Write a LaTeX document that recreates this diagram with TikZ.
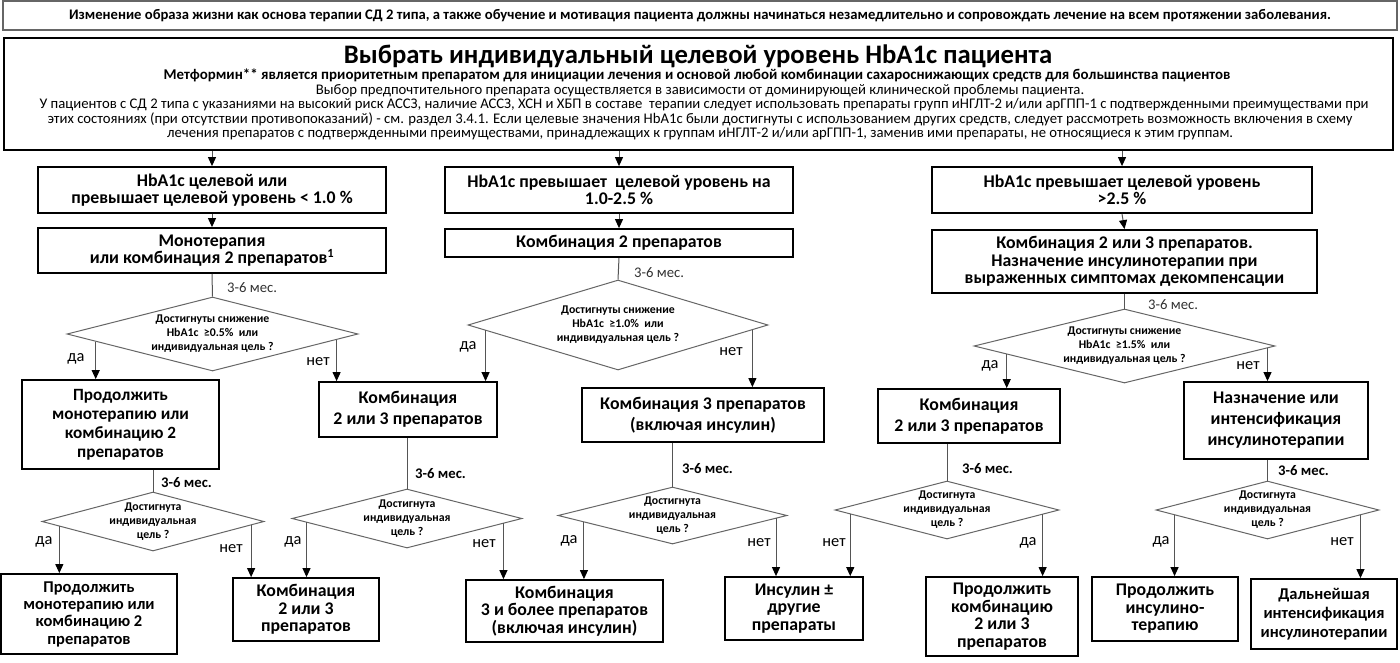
\documentclass[tikz,border=0pt]{standalone}
\usepackage{fontspec}
\setmainfont{Carlito}
\usetikzlibrary{arrows.meta,shapes.geometric,calc}
\definecolor{lc}{HTML}{555555}
\definecolor{dc}{HTML}{666666}
\begin{document}
\begin{tikzpicture}[x=1pt,y=-1pt,
  bx/.style={draw=black,line width=1.8pt,align=center,inner sep=0pt,font=\bfseries\fontsize{17.8}{17.5}\selectfont},
  bxw/.style={bx,font=\bfseries\fontsize{17.8}{21}\selectfont},
  dm/.style={draw=dc,line width=1pt,diamond,inner sep=0pt},
  dt/.style={align=center,inner sep=0pt,font=\bfseries\fontsize{11.8}{14}\selectfont},
  ln/.style={draw=lc,line width=1pt},
  arr/.style={ln,-{Triangle[length=9pt,width=8pt,color=black]}},
  mo/.style={anchor=west,inner sep=0pt,text=black!80,font=\fontsize{14.7}{15}\selectfont},
  mb/.style={anchor=west,inner sep=0pt,font=\bfseries\fontsize{14.7}{15}\selectfont},
  yn/.style={inner sep=0pt,font=\fontsize{16.4}{17}\selectfont},
  ml/.style={anchor=base,inner sep=0pt,font=\fontsize{14.7}{15}\selectfont},
]
\useasboundingbox[fill=white] (0,0) rectangle (1400,662);

% banner
\node[draw=dc,line width=1.3pt,minimum width=1394pt,minimum height=29pt,inner sep=0pt,
  font=\bfseries\fontsize{14.65}{15}\selectfont] (ban) at (700,15.5)
  {Изменение образа жизни как основа терапии СД 2 типа, а также обучение и мотивация пациента должны начинаться незамедлительно и сопровождать лечение на всем протяжении заболевания.};

% main box
\node[draw=black,line width=2pt,minimum width=1389pt,minimum height=112pt,inner sep=0pt] (main) at (698.5,94) {};
\node[ml,font=\bfseries\fontsize{26.7}{30}\selectfont] (title) at (698,63.5) {Выбрать индивидуальный целевой уровень HbA1c пациента};
\node[ml,font=\bfseries\fontsize{14.9}{15}\selectfont] (l1) at (697,79.5) {Метформин** является приоритетным препаратом для инициации лечения и основой любой комбинации сахароснижающих средств для большинства пациентов};
\node[ml] (l2) at (700,94) {Выбор предпочтительного препарата осуществляется в зависимости от доминирующей клинической проблемы пациента.};
\node[ml] (l3) at (704,108.5) {У пациентов с СД 2 типа с указаниями на высокий риск АССЗ, наличие АССЗ, ХСН и ХБП в составе\ \ терапии следует использовать препараты групп иНГЛТ-2 и/или арГПП-1 с подтвержденными преимуществами при};
\node[ml] (l4) at (700,123) {этих состояниях (при отсутствии противопоказаний) - см. раздел 3.4.1. Если целевые значения HbA1c были достигнуты с использованием других средств, следует рассмотреть возможность включения в схему};
\node[ml] (l5) at (700,137.5) {лечения препаратов с подтвержденными преимуществами, принадлежащих к группам иНГЛТ-2 и/или арГПП-1, заменив ими препараты, не относящиеся к этим группам.};

% row A
\node[bx,minimum width=348pt,minimum height=46pt] (A1) at (212,190) {HbA1c целевой или\\превышает целевой уровень < 1.0 \%};
\node[bx,minimum width=348pt,minimum height=45pt] (A2) at (212,250.5) {Монотерапия\\или комбинация 2 препаратов\textsuperscript{1}};
\node[bx,minimum width=348pt,minimum height=46pt] (E1) at (619,190) {HbA1c превышает\ \ целевой уровень на\\1.0-2.5 \%};
\node[bx,minimum width=348pt,minimum height=28pt] (E2) at (619,243) {Комбинация 2 препаратов};
\node[bx,minimum width=380pt,minimum height=46pt] (F1) at (1122,190) {HbA1c превышает целевой уровень\\>2.5 \%};
\node[bx,minimum width=385pt,minimum height=63pt] (F2) at (1124.5,261.5) {Комбинация 2 или 3 препаратов.\\Назначение инсулинотерапии при\\выраженных симптомах декомпенсации};

% row B
\node[bx,font=\bfseries\fontsize{17.2}{19}\selectfont,minimum width=197pt,minimum height=89pt] (B1) at (120.5,424.5) {Продолжить\\монотерапию или\\комбинацию 2\\препаратов};
\node[bxw,minimum width=178pt,minimum height=55pt] (B2) at (408,409.5) {Комбинация\\2 или 3 препаратов};
\node[bxw,minimum width=242pt,minimum height=54pt] (B3) at (703,415) {Комбинация 3 препаратов\\(включая инсулин)};
\node[bxw,minimum width=182pt,minimum height=54pt] (B4) at (969,416) {Комбинация\\2 или 3 препаратов};
\node[bxw,minimum width=184pt,minimum height=77pt] (B5) at (1276,420.5) {Назначение или\\интенсификация\\инсулинотерапии};

% row C
\node[bx,font=\bfseries\fontsize{16.5}{17.3}\selectfont,minimum width=176pt,minimum height=80pt] (C1) at (89,614) {Продолжить\\монотерапию или\\комбинацию 2\\препаратов};
\node[bx,minimum width=146pt,minimum height=63pt] (C2) at (306,609.5) {Комбинация\\2 или 3\\препаратов};
\node[bx,minimum width=197pt,minimum height=62pt] (C3) at (564.5,611) {Комбинация\\3 и более препаратов\\(включая инсулин)};
\node[bx,minimum width=138pt,minimum height=63pt] (C4) at (794,608.5) {Инсулин ±\\другие\\препараты};
\node[bx,minimum width=152pt,minimum height=79pt] (C5) at (1002,616.5) {Продолжить\\комбинацию\\2 или 3\\препаратов};
\node[bx,minimum width=146pt,minimum height=64pt] (C6) at (1165,609) {Продолжить\\инсулино-\\терапию};
\node[bx,font=\bfseries\fontsize{16.5}{19}\selectfont,minimum width=146pt,minimum height=70pt] (C7) at (1324,614) {Дальнейшая\\интенсификация\\инсулинотерапии};

% diamonds
\node[dm,minimum width=291pt,minimum height=74pt] (D1) at (212.5,334) {};
\node[dt] (D1t) at (D1) {Достигнуты снижение\\HbA1c\ \ ≥0.5\%\ \ или\\индивидуальная цель ?};
\node[dm,minimum width=300pt,minimum height=90pt] (G1) at (618,325) {};
\node[dt] (G1t) at (G1) {Достигнуты снижение\\HbA1c\ \ ≥1.0\%\ \ или\\индивидуальная цель ?};
\node[dm,minimum width=301pt,minimum height=74pt] (H1) at (1124.5,346) {};
\node[dt] (H1t) at (H1) {Достигнуты снижение\\HbA1c\ \ ≥1.5\%\ \ или\\индивидуальная цель ?};
\node[dm,minimum width=222pt,minimum height=59pt] (D2) at (153,521.5) {};
\node[dt] (D2t) at (D2) {Достигнута\\индивидуальная\\цель ?};
\node[dm,minimum width=230pt,minimum height=59pt] (D3) at (407,518.5) {};
\node[dt] (D3t) at (D3) {Достигнута\\индивидуальная\\цель ?};
\node[dm,minimum width=229pt,minimum height=57pt] (D4) at (672.5,515.5) {};
\node[dt] (D4t) at (D4) {Достигнута\\индивидуальная\\цель ?};
\node[dm,minimum width=224pt,minimum height=58pt] (D5) at (947,510) {};
\node[dt] (D5t) at (D5) {Достигнута\\индивидуальная\\цель ?};
\node[dm,minimum width=223pt,minimum height=58pt] (D6) at (1267.5,510) {};
\node[dt] (D6t) at (D6) {Достигнута\\индивидуальная\\цель ?};

% main -> row A
\draw[arr] (main.south -| A1.north) -- (A1.north);
\draw[arr] (main.south -| E1.north) -- (E1.north);
\draw[arr] (main.south -| F1.north) -- (F1.north);
\draw[arr] (A1.south) -- (A2.north);
\draw[arr] (E1.south) -- (E2.north);
\draw[arr] (F1.south) -- (F2.north);

% box -> diamond lines
\draw[ln] (A2.south) -- (D1.north);
\draw[ln] (E2.south) -- (G1.north);
\draw[ln] (F2.south) -- (H1.north);
\draw[ln] (B1.south -| D2.north) -- (D2.north);
\draw[ln] (B2.south -| D3.north) -- (D3.north);
\draw[ln] (B3.south -| D4.north) -- (D4.north);
\draw[ln] (B4.south -| D5.north) -- (D5.north);
\draw[ln] (B5.south -| D6.north) -- (D6.north);

% 3-6 labels
\node[mo] (m1) at (227,288) {3-6 мес.};
\node[mo] (m2) at (634,273) {3-6 мес.};
\node[mo] (m3) at (1148,305) {3-6 мес.};
\node[mb] (m4) at (161,483) {3-6 мес.};
\node[mb] (m5) at (415,474) {3-6 мес.};
\node[mb] (m6) at (682,469) {3-6 мес.};
\node[mb] (m7) at (962,469) {3-6 мес.};
\node[mb] (m8) at (1278,471) {3-6 мес.};

% branch coordinates on diamond edges
\coordinate (d1a) at ($(D1.west)!0.2!(D1.south)$);
\coordinate (d1b) at ($(D1.east)!0.15!(D1.south)$);
\coordinate (g1a) at ($(G1.west)!0.12!(G1.south)$);
\coordinate (g1b) at ($(G1.east)!0.107!(G1.south)$);
\coordinate (h1a) at ($(H1.west)!0.22!(H1.south)$);
\coordinate (h1b) at ($(H1.east)!0.053!(H1.south)$);
\coordinate (d2a) at ($(D2.west)!0.16!(D2.south)$);
\coordinate (d2b) at ($(D2.east)!0.12!(D2.south)$);
\coordinate (d3a) at ($(D3.west)!0.13!(D3.south)$);
\coordinate (d3b) at ($(D3.east)!0.165!(D3.south)$);
\coordinate (d4a) at ($(D4.west)!0.23!(D4.south)$);
\coordinate (d4b) at ($(D4.east)!0.1!(D4.south)$);
\coordinate (d5a) at ($(D5.west)!0.14!(D5.south)$);
\coordinate (d5b) at ($(D5.east)!0.15!(D5.south)$);
\coordinate (d6a) at ($(D6.west)!0.17!(D6.south)$);
\coordinate (d6b) at ($(D6.east)!0.17!(D6.south)$);

\draw[arr] (d1a) -- (d1a |- B1.north);
\draw[arr] (d1b) -- (d1b |- B2.north);
\draw[arr] (g1a) -- (g1a |- B2.north);
\draw[arr] (g1b) -- (g1b |- B3.north);
\draw[arr] (h1a) -- (h1a |- B4.north);
\draw[arr] (h1b) -- (h1b |- B5.north);
\draw[arr] (d2a) -- (d2a |- C1.north);
\draw[arr] (d2b) -- (d2b |- C2.north);
\draw[arr] (d3a) -- (d3a |- C2.north);
\draw[arr] (d3b) -- (d3b |- C3.north);
\draw[arr] (d4a) -- (d4a |- C3.north);
\draw[arr] (d4b) -- (d4b |- C4.north);
\draw[arr] (d5a) -- (d5a |- C4.north);
\draw[arr] (d5b) -- (d5b |- C5.north);
\draw[arr] (d6a) -- (d6a |- C6.north);
\draw[arr] (d6b) -- (d6b |- C7.north);

% yes / no labels
\node[yn] (y1) at (76,359) {да};
\node[yn] (n1) at (318,362) {нет};
\node[yn] (y2) at (468,347) {да};
\node[yn] (n2) at (731,352) {нет};
\node[yn] (y3) at (990,366) {да};
\node[yn] (n3) at (1248,366) {нет};
\node[yn] (y4) at (44,542) {да};
\node[yn] (n4) at (231,549) {нет};
\node[yn] (y5) at (293,542) {да};
\node[yn] (n5) at (484,544) {нет};
\node[yn] (y6) at (569,541) {да};
\node[yn] (n6) at (759,543) {нет};
\node[yn] (n7) at (834,543) {нет};
\node[yn] (y7) at (1028,543) {да};
\node[yn] (y8) at (1161,542) {да};
\node[yn] (n8) at (1342,542) {нет};
\end{tikzpicture}
\end{document}
